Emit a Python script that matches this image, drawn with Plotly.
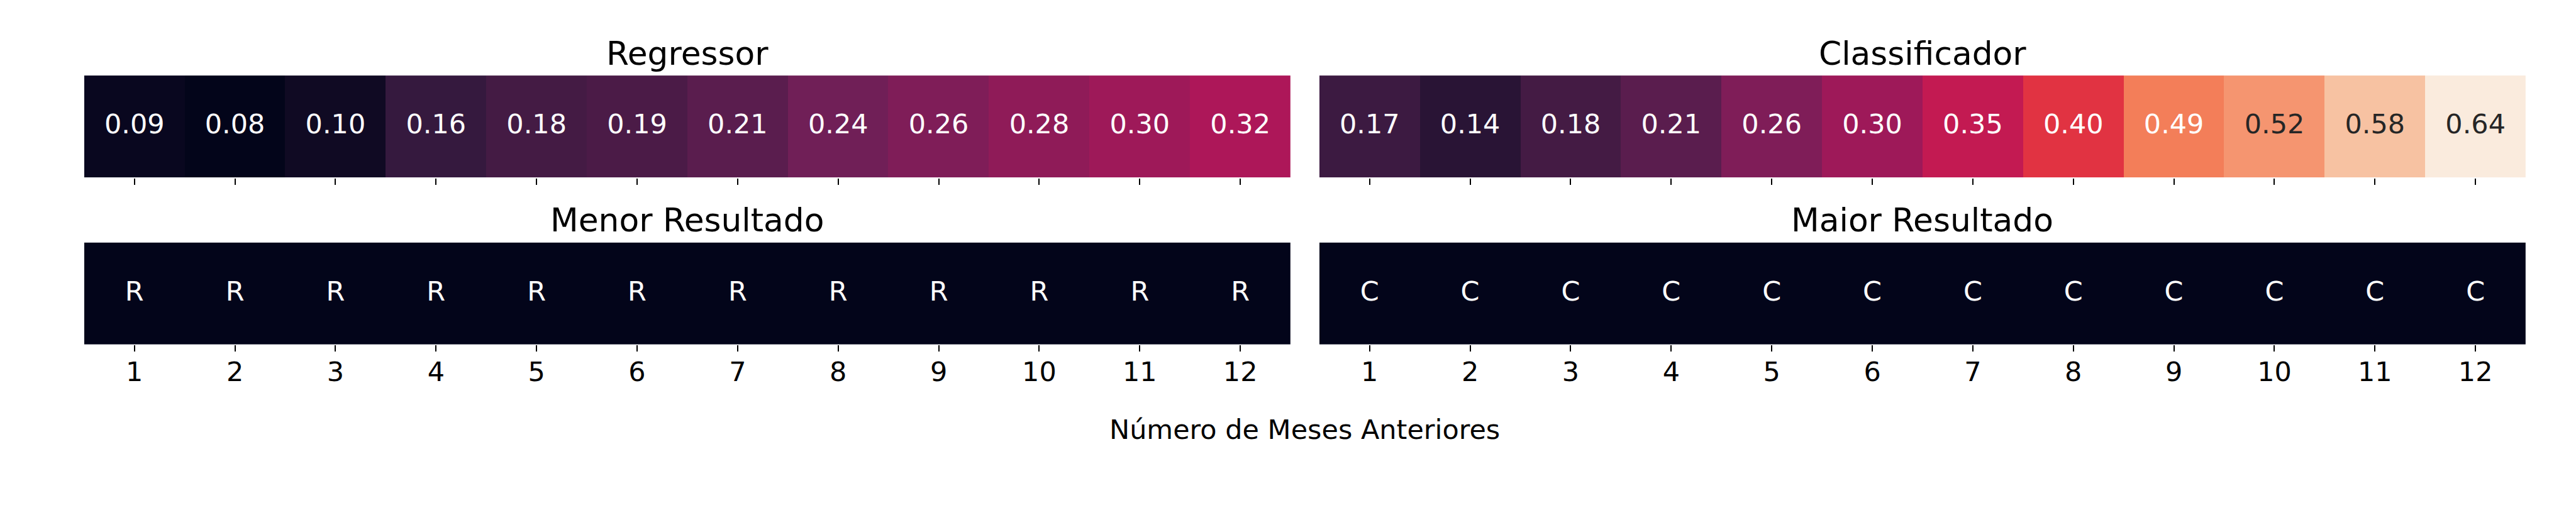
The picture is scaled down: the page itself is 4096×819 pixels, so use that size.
import plotly.graph_objects as go

# ---------------- data ----------------
meses = list(range(1, 13))
regressor = [0.09, 0.08, 0.10, 0.16, 0.18, 0.19, 0.21, 0.24, 0.26, 0.28, 0.30, 0.32]
classificador = [0.17, 0.14, 0.18, 0.21, 0.26, 0.30, 0.35, 0.40, 0.49, 0.52, 0.58, 0.64]
menor_resultado = ["R"] * 12
maior_resultado = ["C"] * 12
menor_codigo = [0] * 12
maior_codigo = [0] * 12

titulos = ["Regressor", "Classificador", "Menor Resultado", "Maior Resultado"]
xlabel = "Número de Meses Anteriores"

# ---------------- colormap (seaborn "rocket") ----------------
rocket = [
    (0.0, "#03051A"), (1 / 7, "#35193E"), (2 / 7, "#701F57"), (3 / 7, "#AD1759"),
    (0.5, "#CB1B4F"), (4 / 7, "#E13342"), (5 / 7, "#F37651"), (6 / 7, "#F6B48F"),
    (1.0, "#FAEBDD"),
]
colorscale = [[p, c] for p, c in rocket]

def hex2rgb(h):
    h = h.lstrip("#")
    return tuple(int(h[i:i + 2], 16) for i in (0, 2, 4))

def cmap(t):
    t = min(max(t, 0.0), 1.0)
    for (p0, c0), (p1, c1) in zip(rocket[:-1], rocket[1:]):
        if p0 <= t <= p1:
            f = (t - p0) / (p1 - p0) if p1 > p0 else 0
            a, b = hex2rgb(c0), hex2rgb(c1)
            return tuple(a[i] + f * (b[i] - a[i]) for i in range(3))
    return hex2rgb(rocket[-1][1])

def lum(rgb):
    out = []
    for v in rgb:
        v = v / 255
        out.append(v / 12.92 if v <= 0.03928 else ((v + 0.055) / 1.055) ** 2.4)
    return 0.2126 * out[0] + 0.7152 * out[1] + 0.0722 * out[2]

vmin, vmax = min(regressor + classificador), max(regressor + classificador)

def text_colors(vals, lo, hi):
    cols = []
    for v in vals:
        c = cmap((v - lo) / (hi - lo) if hi > lo else 0)
        cols.append("#262626" if lum(c) > 0.408 else "white")
    return cols

FONT = "DejaVu Sans"
S = 0.682
TICK = 63 * S
TITLE = 76 * S

fig = go.Figure()

panels = [
    (regressor, [f"{v:.2f}" for v in regressor], "x", "y", vmin, vmax),
    (classificador, [f"{v:.2f}" for v in classificador], "x2", "y2", vmin, vmax),
    (menor_codigo, menor_resultado, "x3", "y3", 0, 1),
    (maior_codigo, maior_resultado, "x4", "y4", 0, 1),
]

for z, txt, xa, ya, lo, hi in panels:
    fig.add_trace(go.Heatmap(
        z=[z], x=meses, y=[0], xaxis=xa, yaxis=ya,
        colorscale=colorscale, zmin=lo, zmax=hi, showscale=False,
        hoverinfo="skip",
    ))
    fig.add_trace(go.Scatter(
        x=meses, y=[0] * 12, xaxis=xa, yaxis=ya, mode="text", text=txt,
        textposition="middle center",
        textfont=dict(family=FONT, size=TICK, color=text_colors(z, lo, hi)),
        hoverinfo="skip", showlegend=False,
    ))

xd = [[196 / 6000, 3006 / 6000], [3073 / 6000, 5883 / 6000]]
yd = [[1 - 414 / 1200, 1 - 176 / 1200], [1 - 803 / 1200, 1 - 565 / 1200]]

axes = {}
for i in range(4):
    row, col = divmod(i, 2)
    sfx = "" if i == 0 else str(i + 1)
    axes["xaxis" + sfx] = dict(
        domain=xd[col], anchor="y" + sfx, range=[0.5, 12.5],
        tickmode="array", tickvals=meses, ticktext=[str(m) for m in meses],
        showticklabels=(row == 1), ticks="outside", ticklen=15 * S, tickwidth=3 * S,
        tickcolor="black", showgrid=False, zeroline=False, showline=False,
        tickfont=dict(family=FONT, size=TICK, color="black"),
        ticklabelstandoff=-5,
        fixedrange=True,
    )
    axes["yaxis" + sfx] = dict(
        domain=yd[row], anchor="x" + sfx, range=[-0.5, 0.5],
        showticklabels=False, ticks="", showgrid=False, zeroline=False,
        showline=False, fixedrange=True,
    )

title_pos = [
    (sum(xd[0]) / 2, 1 - 124 / 1200), (sum(xd[1]) / 2, 1 - 124 / 1200),
    (sum(xd[0]) / 2, 1 - 512.5 / 1200), (sum(xd[1]) / 2, 1 - 512.5 / 1200),
]
annotations = [
    dict(text=t, x=x, y=y, xref="paper", yref="paper", xanchor="center",
         yanchor="middle", showarrow=False,
         font=dict(family=FONT, size=TITLE, color="black"))
    for t, (x, y) in zip(titulos, title_pos)
]
annotations.append(dict(
    text=xlabel, x=(xd[0][0] + xd[1][1]) / 2, y=1 - 1000 / 1200,
    xref="paper", yref="paper", xanchor="center", yanchor="middle",
    showarrow=False, font=dict(family=FONT, size=TICK, color="black"),
))

fig.update_layout(
    width=4096, height=819,
    margin=dict(l=0, r=0, t=0, b=0),
    paper_bgcolor="white", plot_bgcolor="white",
    showlegend=False, annotations=annotations,
    font=dict(family=FONT),
    **axes,
)

fig.write_html(
    "out.html",
    config={"displayModeBar": False},
    post_script="document.body.style.margin='0';document.body.style.overflow='hidden';",
)
